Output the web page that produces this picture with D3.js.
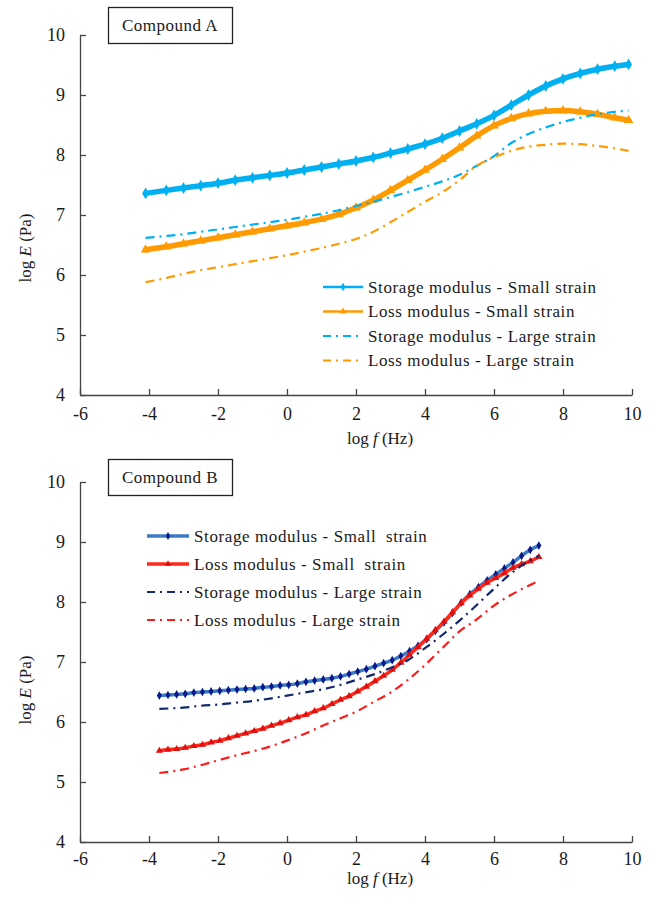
<!DOCTYPE html>
<html>
<head>
<meta charset="utf-8">
<script src="https://cdn.jsdelivr.net/npm/d3@7"></script>
<style>
  html, body { margin: 0; padding: 0; background: #fff; }
  svg { display: block; }
  text { font-family: "Liberation Serif", "Times New Roman", serif; fill: #1a1a1a; }
</style>
</head>
<body>
<svg id="chart" width="650" height="897"></svg>
<script>
// ---- Compound A: log frequency (Hz) and log modulus (Pa) ----
const freqA = [-4.1, -3.5, -3, -2.5, -2, -1.5, -1, -0.5, 0, 0.5, 1, 1.5, 2, 2.5, 3, 3.5, 4, 4.5, 5, 5.5, 6, 6.5, 7, 7.5, 8, 8.5, 9, 9.5, 9.9];
const aStorageSmall = [7.36, 7.41, 7.45, 7.49, 7.53, 7.58, 7.62, 7.66, 7.70, 7.75, 7.80, 7.85, 7.90, 7.96, 8.03, 8.10, 8.18, 8.28, 8.40, 8.52, 8.66, 8.83, 9.00, 9.15, 9.27, 9.36, 9.43, 9.48, 9.51];
const aLossSmall    = [6.42, 6.47, 6.52, 6.57, 6.62, 6.67, 6.72, 6.77, 6.82, 6.87, 6.93, 7.01, 7.12, 7.25, 7.41, 7.58, 7.75, 7.93, 8.12, 8.32, 8.49, 8.61, 8.69, 8.73, 8.74, 8.72, 8.68, 8.62, 8.58];
const aStorageLarge = [6.62, 6.65, 6.68, 6.72, 6.76, 6.80, 6.84, 6.88, 6.92, 6.97, 7.02, 7.08, 7.15, 7.22, 7.30, 7.38, 7.47, 7.56, 7.67, 7.82, 7.98, 8.20, 8.35, 8.46, 8.55, 8.62, 8.68, 8.72, 8.74];
const aLossLarge    = [5.88, 5.95, 6.02, 6.08, 6.13, 6.18, 6.23, 6.28, 6.33, 6.39, 6.45, 6.52, 6.60, 6.72, 6.88, 7.05, 7.22, 7.38, 7.58, 7.82, 7.96, 8.07, 8.14, 8.17, 8.19, 8.18, 8.15, 8.11, 8.07];

// ---- Compound B: small-strain sweep (finer spacing) ----
const freqBSmall = [-3.7, -3.45, -3.2, -2.95, -2.7, -2.45, -2.2, -1.95, -1.7, -1.45, -1.2, -0.95, -0.7, -0.45, -0.2, 0.05, 0.3, 0.55, 0.8, 1.05, 1.3, 1.55, 1.8, 2.05, 2.3, 2.55, 2.8, 3.05, 3.3, 3.55, 3.8, 4.05, 4.3, 4.55, 4.8, 5.05, 5.3, 5.55, 5.8, 6.05, 6.3, 6.55, 6.8, 7.05, 7.3];
const bStorageSmall = [6.44, 6.45, 6.46, 6.47, 6.49, 6.50, 6.51, 6.52, 6.53, 6.54, 6.55, 6.56, 6.58, 6.59, 6.61, 6.62, 6.64, 6.67, 6.69, 6.71, 6.73, 6.76, 6.80, 6.84, 6.88, 6.93, 6.98, 7.03, 7.10, 7.18, 7.27, 7.38, 7.52, 7.66, 7.82, 7.99, 8.13, 8.25, 8.36, 8.46, 8.56, 8.66, 8.77, 8.87, 8.94];
const bLossSmall    = [5.52, 5.54, 5.55, 5.57, 5.60, 5.62, 5.66, 5.69, 5.73, 5.77, 5.81, 5.85, 5.89, 5.94, 5.98, 6.03, 6.08, 6.12, 6.18, 6.23, 6.30, 6.37, 6.43, 6.51, 6.59, 6.68, 6.77, 6.87, 6.99, 7.12, 7.25, 7.39, 7.53, 7.67, 7.83, 7.98, 8.11, 8.22, 8.32, 8.40, 8.48, 8.57, 8.63, 8.68, 8.75];

// ---- Compound B: large-strain sweep ----
const freqBLarge = [-3.7, -3, -2.5, -2, -1.5, -1, -0.5, 0, 0.5, 1, 1.5, 2, 2.5, 3, 3.5, 4, 4.5, 5, 5.5, 6, 6.5, 7, 7.3];
const bStorageLarge = [6.22, 6.24, 6.27, 6.29, 6.32, 6.35, 6.39, 6.44, 6.49, 6.54, 6.61, 6.70, 6.79, 6.90, 7.03, 7.23, 7.45, 7.69, 7.95, 8.22, 8.48, 8.68, 8.77];
const bLossLarge    = [5.15, 5.21, 5.28, 5.36, 5.44, 5.51, 5.59, 5.69, 5.80, 5.93, 6.05, 6.17, 6.33, 6.49, 6.70, 6.95, 7.23, 7.51, 7.71, 7.94, 8.12, 8.27, 8.35];

// ---- Axis ticks and labels ----
const xTicks = [-6, -4, -2, 0, 2, 4, 6, 8, 10];
const yTicks = [4, 5, 6, 7, 8, 9, 10];
const legendLabelsA = ["Storage modulus - Small strain", "Loss modulus - Small strain", "Storage modulus - Large strain", "Loss modulus - Large strain"];
const legendLabelsB = ["Storage modulus - Small  strain", "Loss modulus - Small  strain", "Storage modulus - Large strain", "Loss modulus - Large strain"];

const svg = d3.select("#chart");
const SERIF = "Liberation Serif";
const DASH_DOT = "9,5,2,5";
const plain = d => String(d);   // keep ASCII hyphen for negatives

function drawPanel(p) {
  const g = svg.append("g");
  const x = d3.scaleLinear().domain([-6, 10]).range([80, 632]);
  const y = d3.scaleLinear().domain([4, 10]).range([p.yBottom, p.yTop]);

  // axes with inward ticks
  const ax = g.append("g").attr("transform", `translate(0,${p.yBottom})`)
    .call(d3.axisBottom(x).tickValues(xTicks).tickFormat(plain).tickSizeInner(-6).tickSizeOuter(0).tickPadding(p.xPad));
  const ay = g.append("g").attr("transform", "translate(80,0)")
    .call(d3.axisLeft(y).tickValues(yTicks).tickFormat(plain).tickSizeInner(-6).tickSizeOuter(0).tickPadding(15));
  [ax, ay].forEach(a => {
    a.attr("font-family", SERIF).attr("font-size", 18);
    a.select(".domain").attr("stroke", "#444").attr("stroke-width", 1.3);
    a.selectAll(".tick line").attr("stroke", "#444").attr("stroke-width", 1.3);
    a.selectAll(".tick text").attr("fill", "#1a1a1a");
  });

  // axis titles
  const xt = g.append("text").attr("x", 380).attr("y", p.yBottom + p.xTitleOffset)
    .attr("text-anchor", "middle").style("font-size", "17px");
  xt.append("tspan").text("log ");
  xt.append("tspan").attr("font-style", "italic").text("f");
  xt.append("tspan").text(" (Hz)");
  const yt = g.append("text").attr("transform", `translate(31,${p.yTitleY}) rotate(-90)`)
    .attr("text-anchor", "middle").style("font-size", "17px");
  yt.append("tspan").text("log ");
  yt.append("tspan").attr("font-style", "italic").text("E");
  yt.append("tspan").text(" (Pa)");

  // title box
  g.append("rect").attr("x", 108.5).attr("y", p.boxY + 0.5).attr("width", 124).attr("height", 36)
    .attr("fill", "#fff").attr("stroke", "#222").attr("stroke-width", 1.3);
  g.append("text").attr("x", 170).attr("y", p.boxY + 24).attr("text-anchor", "middle")
    .style("font-size", "17px").style("letter-spacing", "0.5px").text(p.title);

  p.series.forEach(s => {
    const line = d3.line().x((d, i) => x(s.freq[i])).y(d => y(d)).curve(d3.curveMonotoneX);
    g.append("path").datum(s.values).attr("d", line).attr("fill", "none")
      .attr("stroke", s.color).attr("stroke-width", s.width)
      .attr("stroke-dasharray", s.dash || null).attr("stroke-linecap", s.dash ? "butt" : "round");
    if (s.marker) {
      g.append("g").selectAll("path").data(s.values).join("path")
        .attr("transform", (d, i) => `translate(${x(s.freq[i])},${y(d)})`)
        .attr("d", d3.symbol().type(s.marker).size(s.markerSize))
        .attr("fill", s.markerColor);
    }
  });

  // legend
  const lg = g.append("g");
  p.series.forEach((s, i) => {
    const ly = p.legend.y + i * p.legend.dy;
    lg.append("line").attr("x1", p.legend.x).attr("x2", p.legend.x + p.legend.len)
      .attr("y1", ly).attr("y2", ly).attr("stroke", s.color).attr("stroke-width", s.dash ? 2 : s.legendWidth)
      .attr("stroke-dasharray", s.dash ? "8,5,2,5" : null);
    if (s.marker) {
      lg.append("path").attr("transform", `translate(${p.legend.x + p.legend.len / 2},${ly})`)
        .attr("d", d3.symbol().type(s.marker).size(s.legendMarkerSize)).attr("fill", s.markerColor);
    }
    lg.append("text").attr("x", p.legend.x + p.legend.len + 5).attr("y", ly + 5.5)
      .style("font-size", "17px").style("letter-spacing", "0.6px").style("white-space", "pre")
      .text(p.labels[i]);
  });
}

drawPanel({
  title: "Compound A", yTop: 35, yBottom: 395, boxY: 7, xPad: 12, xTitleOffset: 49, yTitleY: 248,
  labels: legendLabelsA,
  legend: { x: 323, len: 40, y: 287, dy: 24.5 },
  series: [
    { freq: freqA, values: aStorageSmall, color: "#00b0f0", width: 5.5, legendWidth: 2.5, marker: d3.symbolDiamond, markerSize: 40, legendMarkerSize: 20, markerColor: "#00b0f0" },
    { freq: freqA, values: aLossSmall, color: "#ff9a00", width: 5.5, legendWidth: 2.5, marker: d3.symbolTriangle, markerSize: 40, legendMarkerSize: 20, markerColor: "#ff9a00" },
    { freq: freqA, values: aStorageLarge, color: "#00b0f0", width: 2.2, dash: DASH_DOT },
    { freq: freqA, values: aLossLarge, color: "#ff9a00", width: 2.2, dash: DASH_DOT }
  ]
});

drawPanel({
  title: "Compound B", yTop: 482, yBottom: 842, boxY: 459, xPad: 10, xTitleOffset: 42, yTitleY: 690,
  labels: legendLabelsB,
  legend: { x: 147, len: 42, y: 536, dy: 28 },
  series: [
    { freq: freqBSmall, values: bStorageSmall, color: "#3b7ac4", width: 3.5, legendWidth: 3.5, marker: d3.symbolDiamond, markerSize: 22, legendMarkerSize: 18, markerColor: "#0a1a8c" },
    { freq: freqBSmall, values: bLossSmall, color: "#ff2a1a", width: 3.5, legendWidth: 3.5, marker: d3.symbolTriangle, markerSize: 22, legendMarkerSize: 18, markerColor: "#e01010" },
    { freq: freqBLarge, values: bStorageLarge, color: "#14286e", width: 2.2, dash: DASH_DOT },
    { freq: freqBLarge, values: bLossLarge, color: "#ff1a1a", width: 2.2, dash: DASH_DOT }
  ]
});
</script>
</body>
</html>
